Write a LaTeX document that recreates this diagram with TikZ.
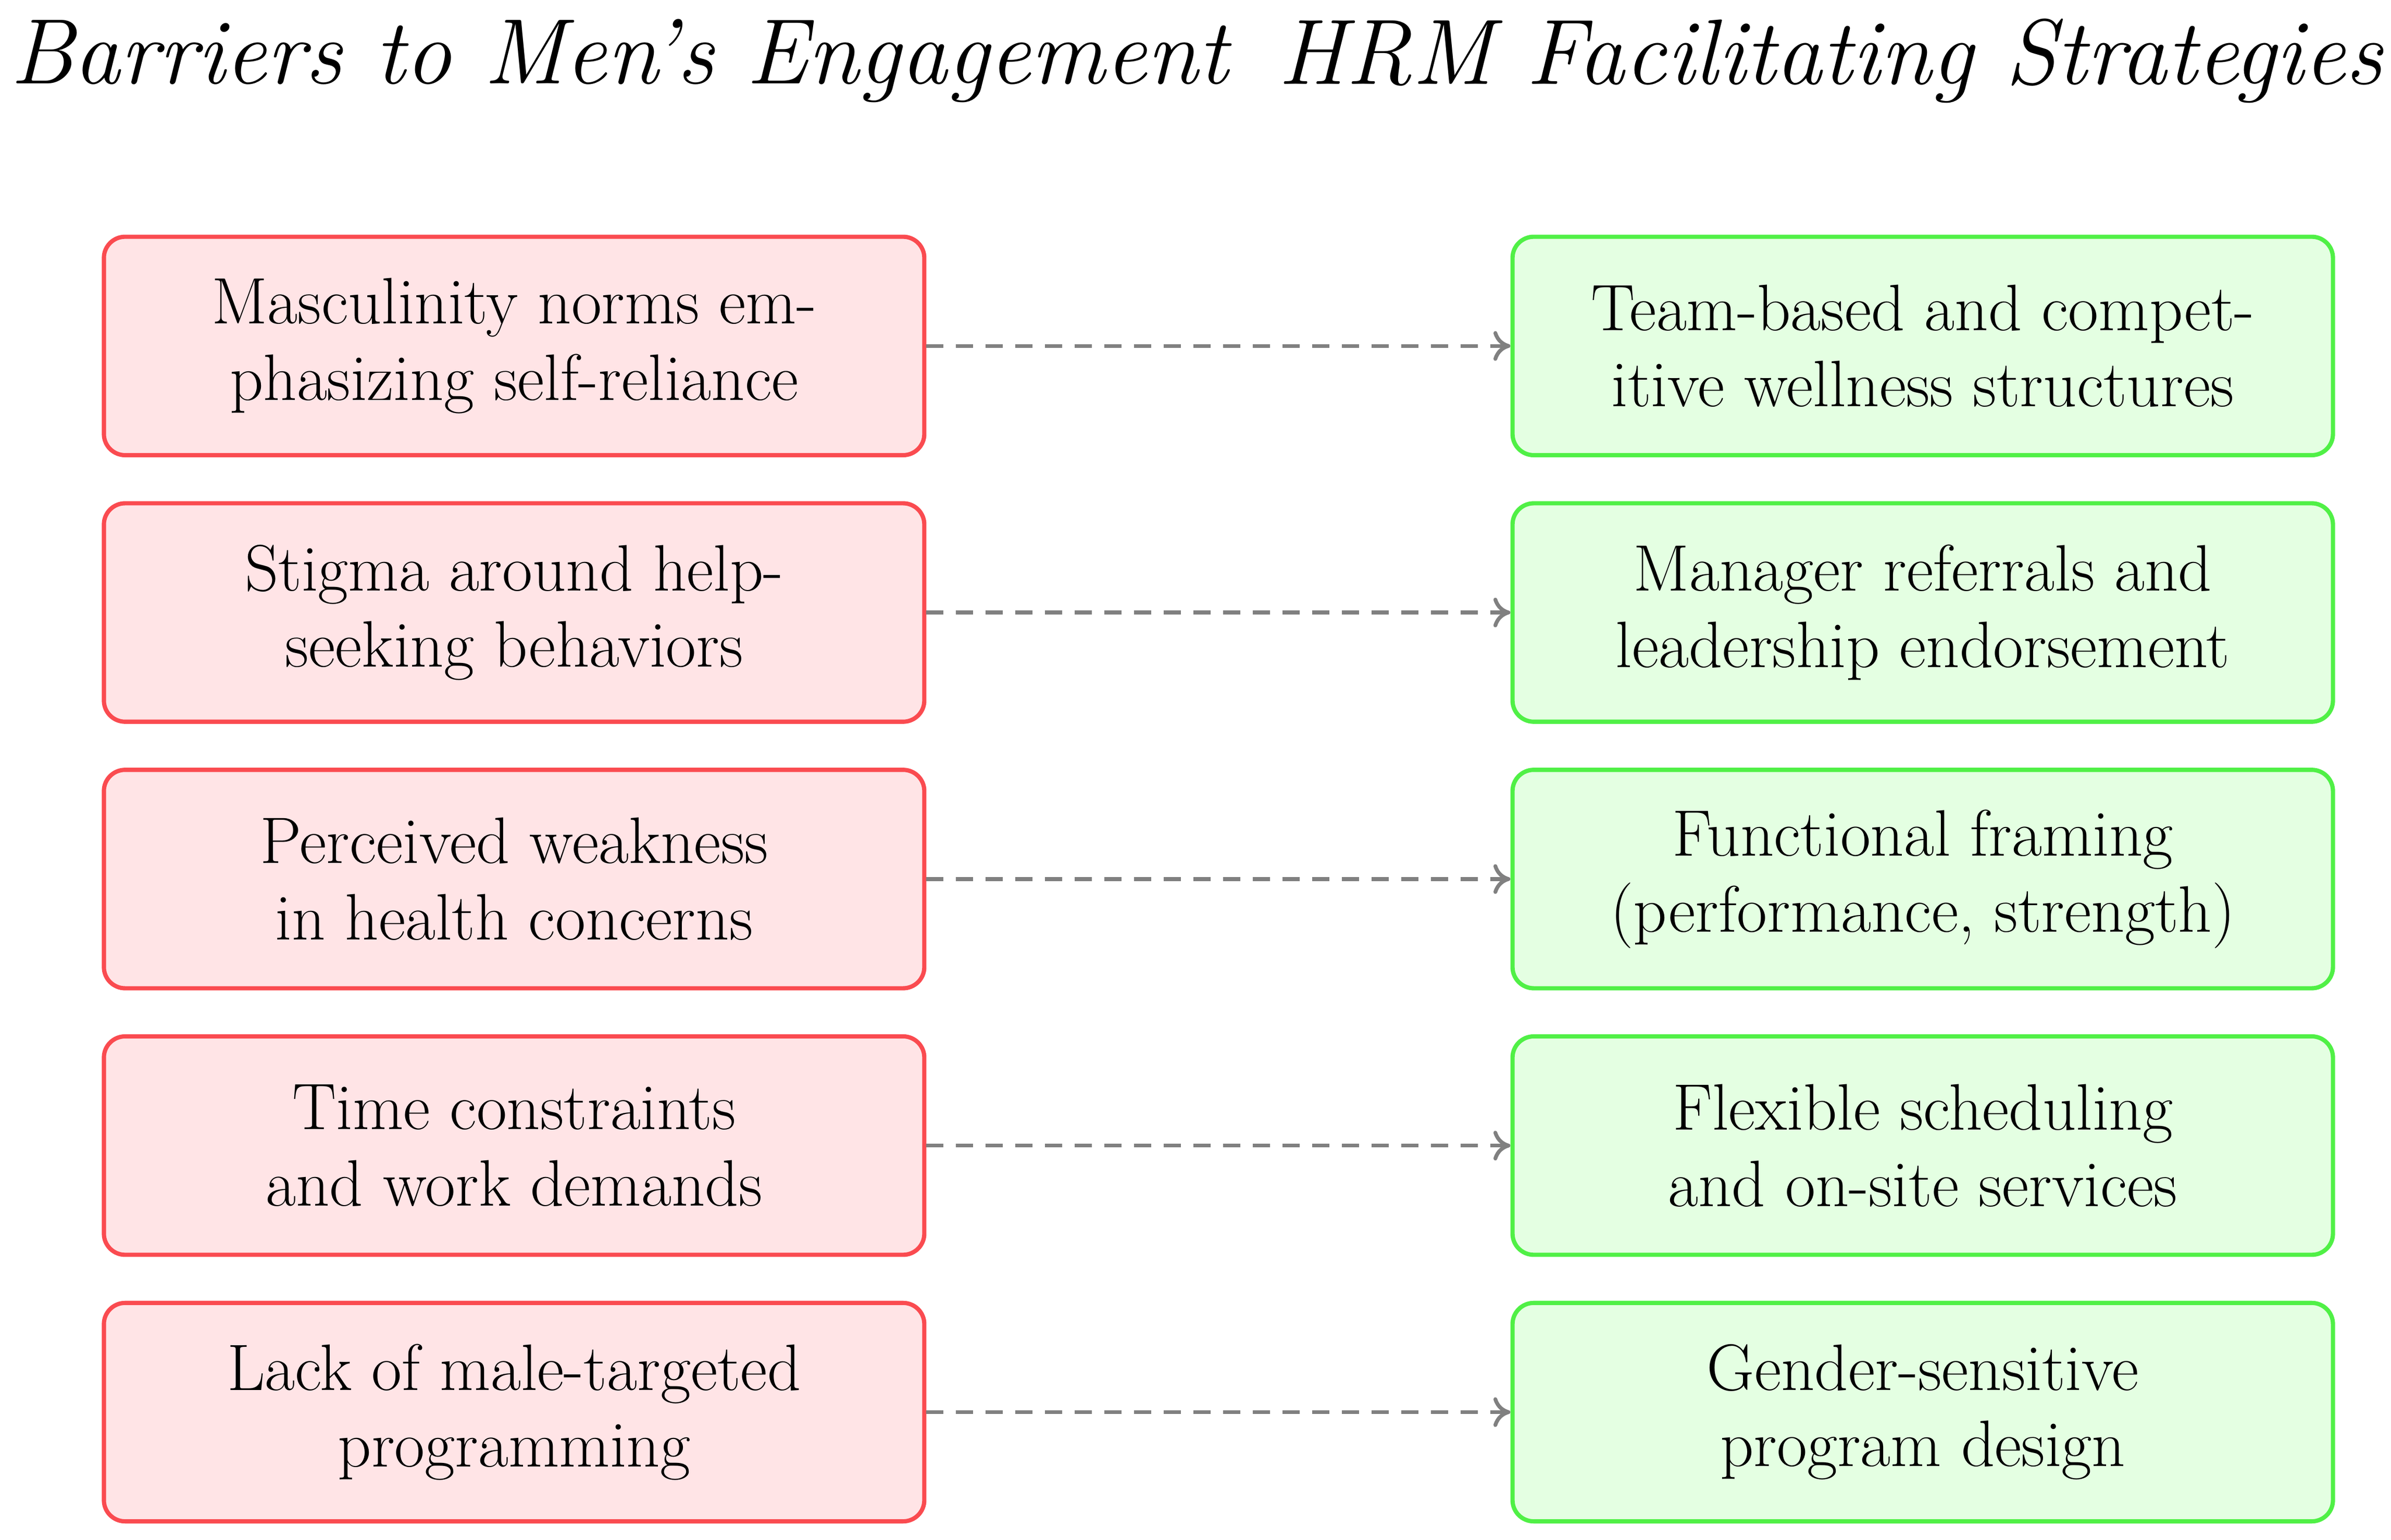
\documentclass[tikz,border=0pt]{standalone}
\usepackage{fix-cm}
\usetikzlibrary{arrows.meta}
\definecolor{rb}{RGB}{250,75,80}
\definecolor{rf}{RGB}{255,228,230}
\definecolor{gb}{RGB}{80,240,70}
\definecolor{gf}{RGB}{228,255,226}
\begin{document}
\begin{tikzpicture}[x=0.01266cm,y=-0.01266cm,
 box/.style={rounded corners=5pt,line width=1pt,minimum width=537*0.01266cm,minimum height=143*0.01266cm,align=center,font=\fontsize{15.5}{18}\selectfont,inner sep=0pt},
 bar/.style={box,draw=rb,fill=rf},
 str/.style={box,draw=gb,fill=gf},
 con/.style={draw=gray,dashed,line width=0.9pt,dash pattern=on 4pt off 3pt,-{To[length=4pt,width=7pt]}},
 ttl/.style={font=\fontsize{21.9}{26}\selectfont\itshape,inner sep=0pt}]
\useasboundingbox (0,0) rectangle (1565,1008);
\node[ttl,anchor=west] (tl) at (6,40) {Barriers to Men's Engagement};
\node[ttl,anchor=east] (tr) at (1560,40) {HRM Facilitating Strategies};
\foreach \i/\y/\a/\b in {
 1/226.5/{Masculinity norms em-\\phasizing self-reliance}/{Team-based and compet-\\itive wellness structures},
 2/401/{Stigma around help-\\seeking behaviors}/{Manager referrals and\\leadership endorsement},
 3/575.5/{Perceived weakness\\in health concerns}/{Functional framing\\(performance, strength)},
 4/750/{Time constraints\\and work demands}/{Flexible scheduling\\and on-site services},
 5/924.5/{Lack of male-targeted\\programming}/{Gender-sensitive\\program design}}{
 \node[bar] (b\i) at (336.5,\y) {\a};
 \node[str] (s\i) at (1258.5,\y) {\b};
 \draw[con] (b\i) -- (s\i);
}
\end{tikzpicture}
\end{document}
